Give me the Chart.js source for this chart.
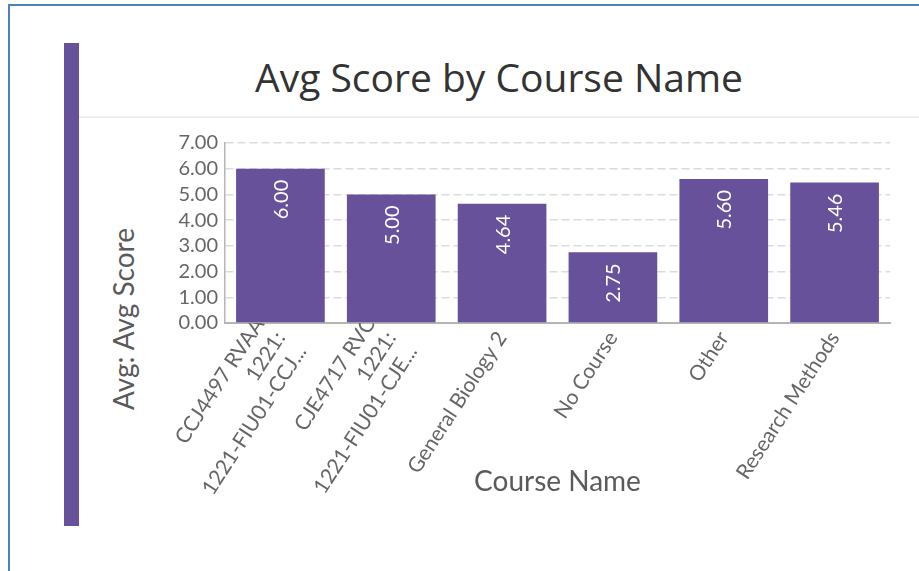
<!DOCTYPE html>
<html>
<head>
<meta charset="utf-8">
<script src="https://cdn.jsdelivr.net/npm/chart.js@4.4.1/dist/chart.umd.min.js"></script>
<style>
  html, body { margin: 0; padding: 0; background: #fff; }
  body { width: 919px; height: 571px; position: relative; overflow: hidden; }
  #frameTop { position: absolute; left: 8px; top: 4px; width: 911px; height: 2px; background: #4f81bd; }
  #frameLeft { position: absolute; left: 8px; top: 4px; width: 2px; height: 567px; background: #4f81bd; }
  #accent { position: absolute; left: 64px; top: 43px; width: 15px; height: 483px; background: #67519b; }
  #rule { position: absolute; left: 79px; top: 116px; width: 840px; height: 2px; background: #efefef; }
  #title { position: absolute; left: 79px; top: 52px; width: 840px; height: 50px; line-height: 50px;
           text-align: center; font-family: 'Open Sans'; font-size: 39px; color: #333; white-space: nowrap; }
  #ytitle { position: absolute; left: -27px; top: 302px; width: 300px; height: 34px; line-height: 34px;
            text-align: center; font-family: Lato; font-size: 28px; color: #5a5a5a; transform: rotate(-90deg);
            white-space: nowrap; }
  #wrap { position: absolute; left: 0; top: 0; width: 919px; height: 571px; }
</style>
</head>
<body>
<div id="frameTop"></div>
<div id="frameLeft"></div>
<div id="accent"></div>
<div id="rule"></div>
<div id="title">Avg Score by Course Name</div>
<div id="ytitle">Avg: Avg Score</div>
<div id="wrap"><canvas id="c"></canvas></div>
<script>
const categories = [
  ["CCJ4497 RVAA", "1221:", "1221-FIU01-CCJ..."],
  ["CJE4717 RVC", "1221:", "1221-FIU01-CJE..."],
  "General Biology 2",
  "No Course",
  "Other",
  "Research Methods"
];
const avgScores = [6.00, 5.00, 4.64, 2.75, 5.60, 5.46];
const yTicks = [0, 1, 2, 3, 4, 5, 6, 7];

const BAR = '#67519b';

const valueLabels = {
  id: 'valueLabels',
  afterDatasetsDraw(chart) {
    const ctx = chart.ctx;
    const meta = chart.getDatasetMeta(0);
    ctx.save();
    ctx.fillStyle = '#ffffff';
    ctx.font = '20px Lato';
    ctx.textAlign = 'right';
    ctx.textBaseline = 'middle';
    meta.data.forEach((bar, i) => {
      ctx.save();
      ctx.translate(bar.x, bar.y + 11);
      ctx.rotate(-Math.PI / 2);
      ctx.fillText(avgScores[i].toFixed(2), 0, 1);
      ctx.restore();
    });
    ctx.restore();
  }
};

// center multi-line rotated tick labels around the tick (as in reference)
const centerMultiline = {
  id: 'centerMultiline',
  beforeDraw(chart) {
    const sc = chart.scales.x;
    if (!sc || !sc.getLabelItems) return;
    const items = sc.getLabelItems();
    items.forEach(it => {
      if (Array.isArray(it.label) && it.label.length > 1) {
        const lh = it.font.lineHeight;
        it.textOffset = lh / 2 - (it.label.length - 1) * lh / 2;
      }
    });
  }
};

new Chart(document.getElementById('c'), {
  type: 'bar',
  data: {
    labels: categories,
    datasets: [{
      label: 'Avg: Avg Score',
      data: avgScores,
      backgroundColor: BAR,
      borderWidth: 0,
      categoryPercentage: 0.8,
      barPercentage: 1.0
    }]
  },
  options: {
    responsive: true,
    maintainAspectRatio: false,
    animation: false,
    layout: { padding: { left: 79, top: 143, right: 29, bottom: 45 } },
    plugins: {
      legend: { display: false },
      tooltip: { enabled: false },
      title: { display: false }
    },
    scales: {
      x: {
        afterFit(scale) { scale.height = 203; },
        grid: { display: false, drawTicks: false },
        border: { display: true, color: '#b5b5b5', width: 2 },
        ticks: {
          color: '#666666',
          font: { family: 'Lato', size: 21 },
          padding: 4,
          minRotation: 57,
          maxRotation: 57,
          autoSkip: false
        },
        title: {
          display: true,
          text: 'Course Name',
          color: '#5a5a5a',
          font: { family: 'Lato', size: 28 },
          padding: { top: 0, bottom: 27 }
        }
      },
      y: {
        min: 0,
        max: 7,
        afterBuildTicks(scale) { scale.ticks = yTicks.map(v => ({ value: v })); },
        afterFit(scale) { scale.width = 146; },
        grid: {
          color: 'rgba(0,0,0,0.14)',
          lineWidth: 1.5,
          drawTicks: false
        },
        border: { display: true, color: '#b5b5b5', width: 1.5, dash: [8, 4] },
        ticks: {
          color: '#666666',
          font: { family: 'Lato', size: 20 },
          padding: 7,
          autoSkip: false,
          callback: v => Number(v).toFixed(2)
        },
        title: { display: false }
      }
    }
  },
  plugins: [centerMultiline, valueLabels]
});
</script>
</body>
</html>
